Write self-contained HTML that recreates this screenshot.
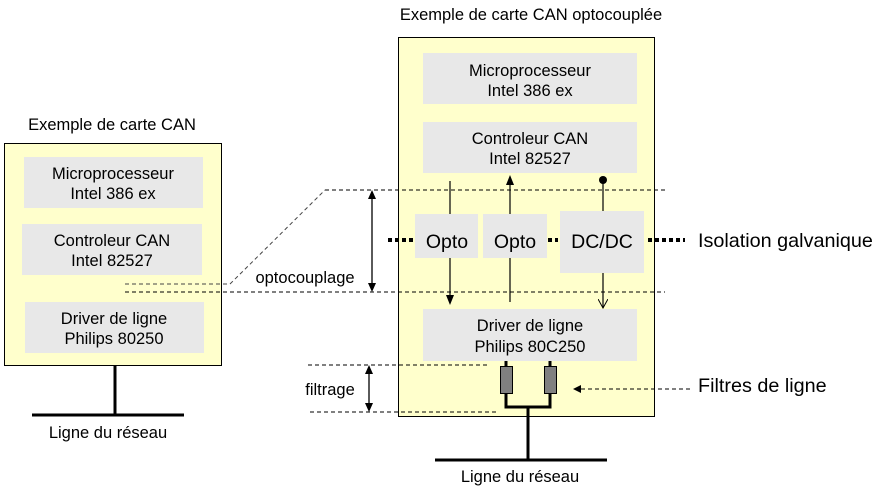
<!DOCTYPE html>
<html><head><meta charset="utf-8"><style>
html,body{margin:0;padding:0;background:#fff;width:876px;height:487px;overflow:hidden}
text{font-family:"Liberation Sans",Arial,sans-serif;fill:#000}
</style></head><body>
<svg width="876" height="487" viewBox="0 0 876 487" xmlns="http://www.w3.org/2000/svg">
<defs>
<marker id="a" markerWidth="10" markerHeight="10" refX="5" refY="5" orient="auto" markerUnits="userSpaceOnUse"><path d="M0,1 L10,5 L0,9 Z" fill="#000"/></marker>
<marker id="o" markerWidth="10" markerHeight="10" refX="9" refY="5" orient="auto" markerUnits="userSpaceOnUse"><path d="M0,0 L9,5 L0,10" fill="none" stroke="#000" stroke-width="1"/></marker>
</defs>
<!-- left card -->
<text x="112" y="130" font-size="16.5" text-anchor="middle">Exemple de carte CAN</text>
<rect x="4.5" y="143.5" width="217" height="222" fill="#ffffcc" stroke="#000"/>
<rect x="24" y="157" width="179" height="51" fill="#e8e8e8"/>
<rect x="22" y="224" width="180" height="51" fill="#e8e8e8"/>
<rect x="25" y="302" width="179" height="51" fill="#e8e8e8"/>
<g font-size="16.5" text-anchor="middle">
<text x="113" y="179">Microprocesseur</text><text x="113" y="199">Intel 386 ex</text>
<text x="112" y="246">Controleur CAN</text><text x="112" y="266">Intel 82527</text>
<text x="114" y="324">Driver de ligne</text><text x="114" y="344">Philips 80250</text>
</g>
<line x1="115" y1="366" x2="115" y2="415" stroke="#000" stroke-width="3"/>
<line x1="32" y1="415" x2="184" y2="415" stroke="#000" stroke-width="3"/>
<text x="108" y="438" font-size="16.5" text-anchor="middle">Ligne du réseau</text>

<!-- right card -->
<text x="531" y="20" font-size="16.5" text-anchor="middle">Exemple de carte CAN optocouplée</text>
<rect x="398.5" y="37.5" width="256" height="379" fill="#ffffcc" stroke="#000"/>
<rect x="423" y="53" width="214" height="51" fill="#e8e8e8"/>
<rect x="423" y="122" width="214" height="51" fill="#e8e8e8"/>
<rect x="423" y="309" width="214" height="52" fill="#e8e8e8"/>
<rect x="415" y="214" width="63" height="44" fill="#e8e8e8"/>
<rect x="483" y="214" width="64" height="44" fill="#e8e8e8"/>
<rect x="560" y="211" width="84" height="62" fill="#e8e8e8"/>
<g font-size="16.5" text-anchor="middle">
<text x="530" y="76">Microprocesseur</text><text x="530" y="96">Intel 386 ex</text>
<text x="530" y="144">Controleur CAN</text><text x="530" y="164">Intel 82527</text>
<text x="530" y="331">Driver de ligne</text><text x="530" y="352">Philips 80C250</text>
</g>
<g font-size="19.5" text-anchor="middle">
<text x="447" y="248">Opto</text><text x="515" y="248">Opto</text><text x="602" y="248">DC/DC</text>
</g>
<!-- signal lines -->
<g stroke="#000" stroke-width="1.2" fill="none">
<line x1="450" y1="181" x2="450" y2="214"/>
<line x1="450" y1="258" x2="450" y2="300" marker-end="url(#a)"/>
<line x1="510" y1="214" x2="510" y2="180" marker-end="url(#a)"/>
<line x1="510" y1="258" x2="510" y2="302"/>
<line x1="603" y1="180" x2="603" y2="211"/>
<line x1="603" y1="273" x2="603" y2="308" marker-end="url(#o)"/>
</g>
<circle cx="603" cy="180" r="4" fill="#000"/>
<!-- dashed lines -->
<g stroke="#000" stroke-width="1" stroke-dasharray="4,3" fill="none">
<line x1="325" y1="190" x2="665" y2="190"/>
<polyline points="125,284 230,284 325,190" stroke="#444"/>
<line x1="125" y1="292" x2="665" y2="292"/>
<line x1="308" y1="365" x2="488" y2="365"/>
<line x1="310" y1="412" x2="497" y2="412"/>
<line x1="690" y1="389" x2="580" y2="389"/>
</g>
<path d="M573,389 L581,385 L581,393 Z" fill="#000"/>
<!-- dimension arrows -->
<g stroke="#000" stroke-width="1.3">
<line x1="372" y1="196" x2="372" y2="286"/>
<line x1="369" y1="371" x2="369" y2="406"/>
</g>
<path d="M372,190 L368,199 L376,199 Z M372,292 L368,283 L376,283 Z M369,365 L365,374 L373,374 Z M369,412 L365,403 L373,403 Z" fill="#000"/>
<text x="305" y="283" font-size="16.5" text-anchor="middle">optocouplage</text>
<text x="330" y="395" font-size="16.5" text-anchor="middle">filtrage</text>
<!-- isolation dotted -->
<g stroke="#000" stroke-width="4" stroke-dasharray="4,3">
<line x1="388" y1="240" x2="413" y2="240"/>
<line x1="548" y1="240" x2="558" y2="240"/>
<line x1="648" y1="240" x2="685" y2="240"/>
</g>
<text x="698" y="247" font-size="19.8">Isolation galvanique</text>
<text x="698" y="392" font-size="19.8">Filtres de ligne</text>
<!-- filters -->
<g stroke="#000" stroke-width="3" fill="none">
<line x1="506" y1="361" x2="506" y2="367"/>
<line x1="550" y1="361" x2="550" y2="367"/>
<polyline points="506,393 506,407 550,407 550,393"/>
<line x1="528" y1="407" x2="528" y2="460"/>
<line x1="435" y1="460" x2="607" y2="460"/>
</g>
<rect x="500.5" y="366.5" width="12" height="27" fill="#808080" stroke="#000"/>
<rect x="544.5" y="366.5" width="12" height="27" fill="#808080" stroke="#000"/>
<text x="520" y="482" font-size="16.5" text-anchor="middle">Ligne du réseau</text>
</svg>
</body></html>
